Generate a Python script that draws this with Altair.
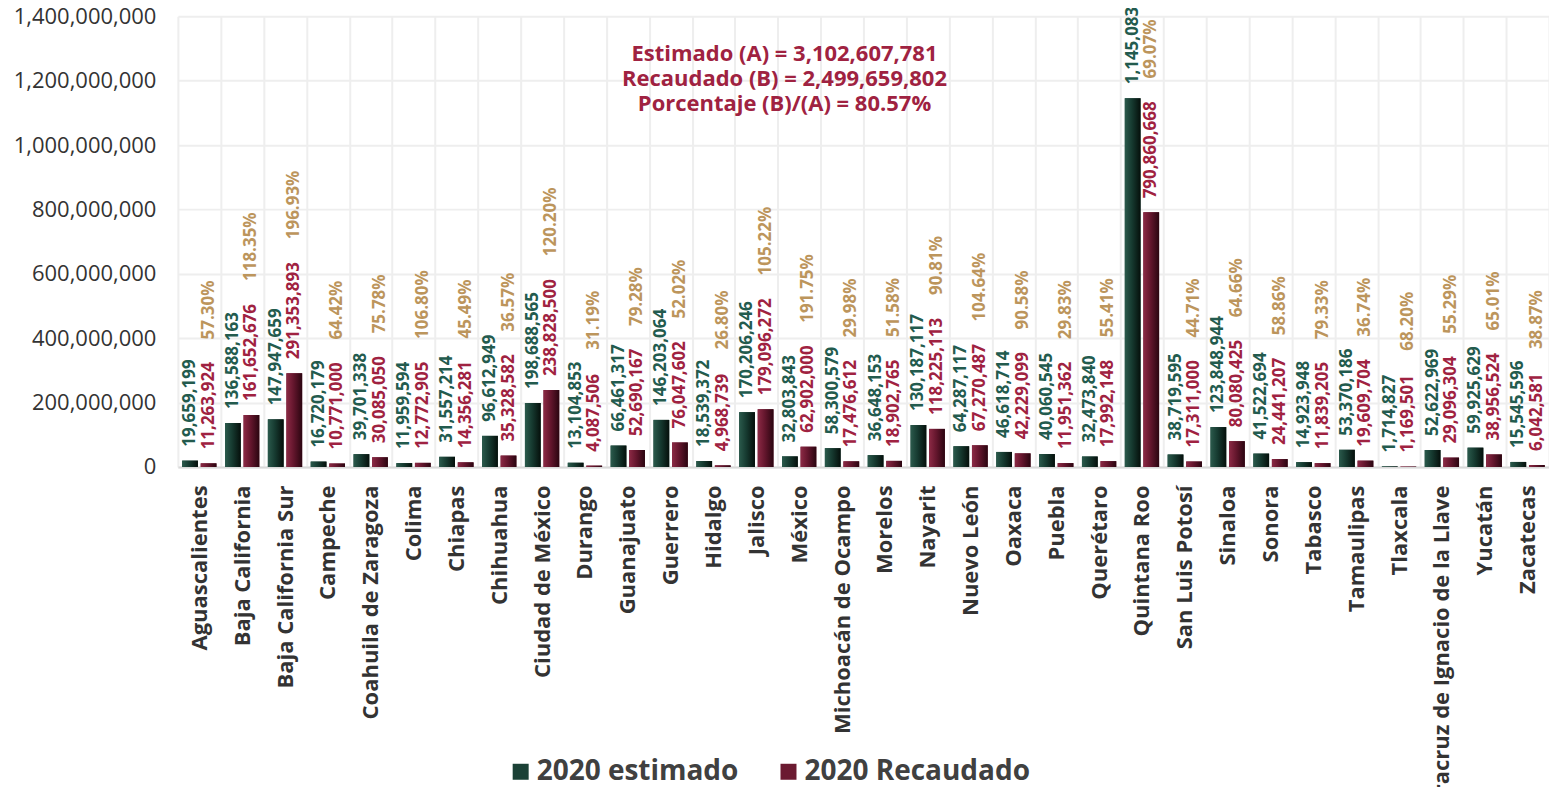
import altair as alt
import pandas as pd

estados = ["Aguascalientes", "Baja California", "Baja California Sur", "Campeche",
           "Coahuila de Zaragoza", "Colima", "Chiapas", "Chihuahua", "Ciudad de México",
           "Durango", "Guanajuato", "Guerrero", "Hidalgo", "Jalisco", "México",
           "Michoacán de Ocampo", "Morelos", "Nayarit", "Nuevo León", "Oaxaca", "Puebla",
           "Querétaro", "Quintana Roo", "San Luis Potosí", "Sinaloa", "Sonora", "Tabasco",
           "Tamaulipas", "Tlaxcala", "Veracruz de Ignacio de la Llave", "Yucatán", "Zacatecas"]

estimado = [19659199, 136588163, 147947659, 16720179, 39701338, 11959594, 31557214,
            96612949, 198688565, 13104853, 66461317, 146203064, 18539372, 170206246,
            32803843, 58300579, 36648153, 130187117, 64287117, 46618714, 40060545,
            32473840, 1145083773, 38719595, 123848944, 41522694, 14923948, 53370186,
            1714827, 52622969, 59925629, 15545596]

recaudado = [11263924, 161652676, 291353893, 10771000, 30085050, 12772905, 14356281,
             35328582, 238828500, 4087506, 52690167, 76047602, 4968739, 179096272,
             62902000, 17476612, 18902765, 118225113, 67270487, 42229099, 11951362,
             17992148, 790860668, 17311000, 80080425, 24441207, 11839205, 19609704,
             1169501, 29096304, 38956524, 6042581]

series = ["2020 estimado", "2020 Recaudado"]
y_ticks = [0, 200000000, 400000000, 600000000, 800000000, 1000000000, 1200000000, 1400000000]

rows = []
for e, a, b in zip(estados, estimado, recaudado):
    rows.append({"estado": e, "serie": series[0], "valor": a, "label": f"{a:,}"})
    rows.append({"estado": e, "serie": series[1], "valor": b, "label": f"{b:,}"})
df = pd.DataFrame(rows)

pct_df = pd.DataFrame({
    "estado": estados,
    "serie": series[1],
    "valor": recaudado,
    "pct": [f"{b / a * 100:.2f}%" for a, b in zip(estimado, recaudado)],
    "n": [len(f"{b:,}") for b in recaudado],
})

tot_a = sum(estimado)
tot_b = sum(recaudado)
note = "\n".join([
    f"Estimado (A) = {tot_a:,}",
    f"Recaudado (B) = {tot_b:,}",
    f"Porcentaje (B)/(A) = {tot_b / tot_a * 100:.2f}%",
])
note_df = pd.DataFrame({"t": [note]})

FONT = "Open Sans"

x = alt.X("estado:N", sort=estados, title=None,
          scale=alt.Scale(paddingInner=0, paddingOuter=0),
          axis=alt.Axis(labelAngle=-90, labelFont=FONT, labelFontSize=22,
                        labelFontWeight="bold", labelColor="#333333", labelPadding=18,
                        labelLimit=0, ticks=False, domainColor="#d9d9d9", domainWidth=2,
                        grid=True, gridColor="#eeeeee", gridWidth=2, tickBand="extent"))
xo = alt.XOffset("serie:N", sort=series,
                 scale=alt.Scale(domain=series, paddingInner=0.15, paddingOuter=0.23))
y = alt.Y("valor:Q", title=None,
          scale=alt.Scale(domain=[0, 1400000000], nice=False),
          axis=alt.Axis(values=y_ticks, format=",.0f", labelFont=FONT, labelFontSize=22,
                        labelColor="#333333", labelPadding=22, ticks=False, domain=False,
                        grid=True, gridColor="#eeeeee", gridWidth=2))

bars = alt.Chart(df).mark_bar().encode(
    x=x, xOffset=xo, y=y,
    color=alt.Color("serie:N", sort=series,
                    scale=alt.Scale(domain=series, range=["#1b4136", "#6b1a31"]),
                    legend=alt.Legend(title=None, orient="none", direction="horizontal",
                                      legendX=329, legendY=742, symbolType="square",
                                      symbolSize=256, symbolStrokeWidth=0,
                                      labelFont=FONT, labelFontSize=28, labelLimit=0,
                                      labelFontWeight="bold", labelColor="#404040",
                                      labelOffset=2, columnPadding=36)),
)

def grad(c0, c1, c2):
    return alt.Gradient(gradient="linear", x1=0, x2=1, y1=0, y2=0,
                        stops=[alt.GradientStop(color=c0, offset=0),
                               alt.GradientStop(color=c1, offset=0.45),
                               alt.GradientStop(color=c2, offset=1)])

over_g = alt.Chart(df).transform_filter(alt.datum.serie == series[0]).mark_bar(
    color=grad("#2b5a4c", "#163a30", "#050f0b")).encode(x=x, xOffset=xo, y=y)
over_r = alt.Chart(df).transform_filter(alt.datum.serie == series[1]).mark_bar(
    color=grad("#8c2a45", "#64162d", "#2a0510")).encode(x=x, xOffset=xo, y=y)

def labels(serie, color):
    return alt.Chart(df).transform_filter(alt.datum.serie == serie).mark_text(
        angle=270, align="left", baseline="middle", dx=14, font=FONT,
        fontWeight="bold", fontSize=17, color=color,
    ).encode(x=x, xOffset=xo, y=y, text="label:N")

lab_g = labels(series[0], "#235B4E")
lab_r = labels(series[1], "#9F2241")

pct_layers = []
for n, off in [(9, 116), (10, 124), (11, 134)]:
    pct_layers.append(
        alt.Chart(pct_df).transform_filter(alt.datum.n == n).mark_text(
            angle=270, align="left", baseline="middle", dx=off, font=FONT,
            fontWeight="bold", fontSize=17, color="#BC955C",
        ).encode(x=x, xOffset=xo, y=y, text="pct:N")
    )

annot = alt.Chart(note_df).mark_text(
    lineBreak="\n", align="center", baseline="top", font=FONT, fontWeight="bold",
    fontSize=22, lineHeight=25, color="#9F2241",
).encode(text="t:N", x=alt.value(607), y=alt.value(28))

chart = alt.layer(bars, over_g, over_r, lab_g, lab_r, *pct_layers, annot).properties(
    width=1372, height=451,
    autosize=alt.AutoSizeParams(type="none"),
    padding={"left": 170, "top": 8, "right": 0, "bottom": 330},
).configure_view(stroke=None)

chart.save("out.html", embed_options={"renderer": "svg", "actions": False})
